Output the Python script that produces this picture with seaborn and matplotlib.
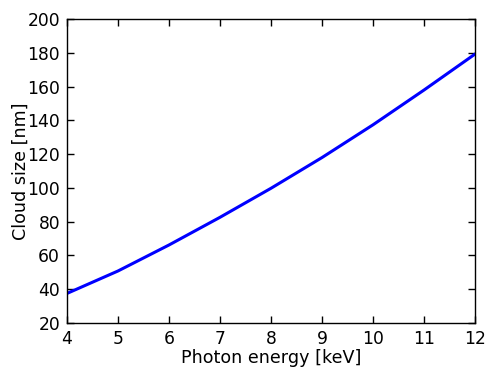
import matplotlib
matplotlib.use("Agg")
import matplotlib.pyplot as plt
import seaborn as sns
import pandas as pd

photon_energy = [4, 5, 6, 7, 8, 9, 10, 11, 12]
cloud_size = [37.5, 50.8, 66.2, 82.6, 99.8, 118.0, 137.4, 158.0, 179.3]

x_ticks = [4, 5, 6, 7, 8, 9, 10, 11, 12]
y_ticks = [20, 40, 60, 80, 100, 120, 140, 160, 180, 200]

sns.set_style("ticks")
plt.rcParams['font.family'] = ['DejaVu Sans']

df = pd.DataFrame({"Photon energy [keV]": photon_energy, "Cloud size [nm]": cloud_size})

fig = plt.figure(figsize=(4.98, 3.74), dpi=100)
ax = fig.add_axes([0.1345, 0.1364, 0.954 - 0.1345, 0.949 - 0.1364])
sns.lineplot(data=df, x="Photon energy [keV]", y="Cloud size [nm]", ax=ax,
             color="#0000ff", linewidth=2.2)
ax.set_xlim(4, 12)
ax.set_ylim(20, 200)
ax.set_xticks(x_ticks)
ax.set_yticks(y_ticks)
ax.tick_params(direction="in", top=True, right=True, length=5, width=1,
               labelsize=12.3, color="black", labelcolor="black", pad=5)
for s in ax.spines.values():
    s.set_visible(True)
    s.set_color("black")
    s.set_linewidth(1)
ax.set_xlabel("Photon energy [keV]", fontsize=12.6, color="black", labelpad=1)
ax.set_ylabel("Cloud size [nm]", fontsize=12.6, color="black", labelpad=-1.5)
fig.savefig("out.png", dpi=100)
